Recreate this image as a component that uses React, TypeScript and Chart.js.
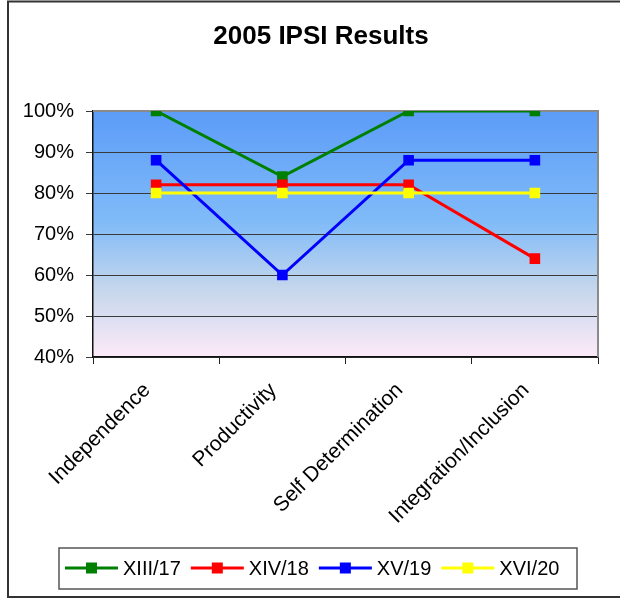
import React, { useEffect, useRef } from 'react';
import { Chart, registerables } from 'chart.js';

Chart.register(...registerables);

const chartTitle = '2005 IPSI Results';
const categories = ['Independence', 'Productivity', 'Self Determination', 'Integration/Inclusion'];
const seriesNames = ['XIII/17', 'XIV/18', 'XV/19', 'XVI/20'];
const xiii17 = [100, 84, 100, 100];
const xiv18 = [82, 82, 82, 64];
const xv19 = [88, 60, 88, 88];
const xvi20 = [80, 80, 80, 80];
const seriesValues = [xiii17, xiv18, xv19, xvi20];
const seriesColors = ['#008000', '#ff0000', '#0000ff', '#ffff00'];
const yMin = 40;
const yMax = 100;
const yStep = 10;

const FONT = 'Arial, "Liberation Sans", sans-serif';

const decorPlugin = {
  id: 'decor',
  beforeDraw(chart: any) {
    const { ctx, chartArea: a, width, height } = chart;
    ctx.save();
    ctx.fillStyle = '#ffffff';
    ctx.fillRect(0, 0, width, height);
    const g = ctx.createLinearGradient(0, a.top, 0, a.bottom);
    g.addColorStop(0, '#5c9cf8');
    g.addColorStop(0.45, '#80bbf8');
    g.addColorStop(0.72, '#c4d6ec');
    g.addColorStop(1, '#fdeaf8');
    ctx.fillStyle = g;
    ctx.fillRect(a.left, a.top, a.right - a.left, a.bottom - a.top);
    ctx.restore();
  },
  beforeDatasetsDraw(chart: any) {
    const { ctx, chartArea: a } = chart;
    ctx.save();
    ctx.strokeStyle = '#8a8a8a';
    ctx.lineWidth = 2;
    ctx.beginPath();
    ctx.moveTo(a.left, a.top);
    ctx.lineTo(a.right, a.top);
    ctx.lineTo(a.right, a.bottom);
    ctx.stroke();
    ctx.restore();
  },
  afterDraw(chart: any) {
    const { ctx } = chart;
    ctx.save();
    // outer frame
    ctx.strokeStyle = '#333333';
    ctx.lineWidth = 2;
    ctx.beginPath();
    ctx.moveTo(620, 1.5);
    ctx.lineTo(8, 1.5);
    ctx.lineTo(8, 597);
    ctx.lineTo(620, 597);
    ctx.stroke();
    // title
    ctx.fillStyle = '#000';
    ctx.font = `bold 26px ${FONT}`;
    ctx.textAlign = 'center';
    ctx.textBaseline = 'alphabetic';
    ctx.fillText(chartTitle, 321, 44);
    // legend
    ctx.strokeStyle = '#555555';
    ctx.lineWidth = 1.5;
    ctx.strokeRect(59, 548, 518, 41);
    ctx.font = `20px ${FONT}`;
    ctx.textAlign = 'left';
    ctx.textBaseline = 'middle';
    let x = 65;
    const cy = 568;
    chart.data.datasets.forEach((ds: any) => {
      ctx.strokeStyle = ds.borderColor;
      ctx.lineWidth = 3;
      ctx.beginPath();
      ctx.moveTo(x, cy);
      ctx.lineTo(x + 53, cy);
      ctx.stroke();
      ctx.fillStyle = ds.borderColor;
      ctx.fillRect(x + 26.5 - 5.5, cy - 5.5, 11, 11);
      x += 58;
      ctx.fillStyle = '#000';
      ctx.fillText(ds.label, x, cy + 1);
      x += ctx.measureText(ds.label).width + 10;
    });
    ctx.restore();
  },
};

export default function App() {
  const canvasRef = useRef<HTMLCanvasElement | null>(null);

  useEffect(() => {
    if (!canvasRef.current) return;
    const datasets = seriesNames.map((name, i) => ({
      label: name,
      data: seriesValues[i],
      borderColor: seriesColors[i],
      backgroundColor: seriesColors[i],
      borderWidth: 3,
      pointStyle: 'rect',
      pointRadius: 7.5,
      pointBorderWidth: 0,
      pointBackgroundColor: seriesColors[i],
      tension: 0,
      fill: false,
      order: seriesNames.length - 1 - i,
    }));
    const chart = new Chart(canvasRef.current, {
      type: 'line',
      data: { labels: categories, datasets },
      options: {
        animation: false,
        responsive: false,
        devicePixelRatio: 1,
        layout: { padding: { top: 111, right: 22, left: 0, bottom: 0 } },
        plugins: {
          legend: { display: false },
          title: { display: false },
          tooltip: { enabled: false },
        },
        scales: {
          x: {
            offset: true,
            grid: {
              display: true,
              drawOnChartArea: false,
              drawTicks: true,
              tickLength: 7,
              color: '#222',
              offset: true,
            },
            border: { display: true, color: '#111', width: 1.5 },
            ticks: {
              minRotation: 45,
              maxRotation: 45,
              autoSkip: false,
              color: '#000',
              padding: 14,
              labelOffset: -9,
              font: { family: FONT, size: 21 },
            },
            afterFit(scale: any) {
              scale.height = 241;
            },
          },
          y: {
            min: yMin,
            max: yMax,
            ticks: {
              stepSize: yStep,
              color: '#000',
              padding: 12,
              font: { family: FONT, size: 20 },
              callback: (v: any) => `${v}%`,
            },
            grid: { color: '#3a3a3a', lineWidth: 1, tickLength: 7, drawTicks: true },
            border: { display: true, color: '#111', width: 1.5 },
            afterFit(scale: any) {
              scale.width = 93;
            },
          },
        },
      },
      plugins: [decorPlugin],
    } as any);
    return () => chart.destroy();
  }, []);

  return (
    <div style={{ position: 'absolute', left: 0, top: 0, width: 620, height: 598 }}>
      <canvas ref={canvasRef} width={620} height={598} style={{ display: 'block' }} />
    </div>
  );
}
